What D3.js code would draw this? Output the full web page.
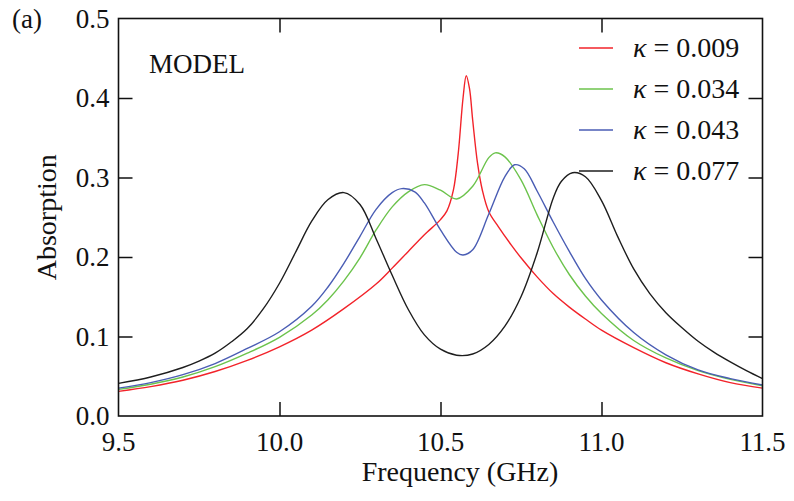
<!DOCTYPE html>
<html>
<head>
<meta charset="utf-8">
<script src="https://cdn.jsdelivr.net/npm/d3@7"></script>
<style>
  html, body { margin: 0; padding: 0; background: #fff; }
  svg { display: block; font-family: "Liberation Serif", "Times New Roman", serif; }
</style>
</head>
<body>
<svg id="chart" width="794" height="501"></svg>
<script>
// Absorption spectra for four coupling strengths (kappa)
const freqRed = [9.50, 9.60, 9.70, 9.80, 9.90, 10.00, 10.10, 10.20, 10.30, 10.35, 10.40, 10.45, 10.50, 10.52, 10.54, 10.555, 10.57, 10.58, 10.59, 10.60, 10.615, 10.63, 10.65, 10.68, 10.72, 10.75, 10.80, 10.85, 10.90, 10.95, 11.00, 11.10, 11.20, 11.30, 11.40, 11.50];
const absRed  = [0.031, 0.037, 0.045, 0.056, 0.070, 0.087, 0.108, 0.135, 0.166, 0.186, 0.207, 0.228, 0.247, 0.258, 0.284, 0.330, 0.400, 0.428, 0.412, 0.372, 0.318, 0.284, 0.257, 0.238, 0.215, 0.199, 0.175, 0.154, 0.137, 0.122, 0.108, 0.086, 0.067, 0.053, 0.042, 0.035];

const freqGreen = [9.50, 9.60, 9.70, 9.80, 9.90, 10.00, 10.10, 10.15, 10.20, 10.25, 10.30, 10.35, 10.40, 10.45, 10.50, 10.55, 10.60, 10.65, 10.67, 10.70, 10.75, 10.80, 10.85, 10.90, 10.95, 11.00, 11.10, 11.20, 11.30, 11.40, 11.50];
const absGreen  = [0.0335, 0.040, 0.049, 0.062, 0.079, 0.099, 0.127, 0.146, 0.170, 0.199, 0.234, 0.263, 0.282, 0.291, 0.284, 0.273, 0.289, 0.325, 0.331, 0.326, 0.297, 0.253, 0.212, 0.178, 0.151, 0.129, 0.095, 0.073, 0.057, 0.046, 0.038];

const freqBlue = [9.50, 9.60, 9.70, 9.80, 9.90, 10.00, 10.10, 10.15, 10.20, 10.25, 10.30, 10.35, 10.38, 10.42, 10.45, 10.50, 10.55, 10.57, 10.60, 10.65, 10.70, 10.73, 10.76, 10.80, 10.85, 10.90, 10.95, 11.00, 11.10, 11.20, 11.30, 11.40, 11.50];
const absBlue  = [0.035, 0.042, 0.052, 0.066, 0.085, 0.106, 0.138, 0.162, 0.192, 0.226, 0.260, 0.281, 0.286, 0.282, 0.268, 0.234, 0.206, 0.2025, 0.209, 0.254, 0.301, 0.316, 0.311, 0.283, 0.244, 0.207, 0.173, 0.146, 0.105, 0.077, 0.058, 0.047, 0.039];

const freqBlack = [9.50, 9.60, 9.70, 9.75, 9.80, 9.85, 9.90, 9.95, 10.00, 10.05, 10.10, 10.15, 10.20, 10.25, 10.30, 10.35, 10.40, 10.45, 10.50, 10.55, 10.60, 10.65, 10.70, 10.75, 10.80, 10.85, 10.875, 10.91, 10.95, 11.00, 11.05, 11.10, 11.15, 11.20, 11.25, 11.30, 11.35, 11.40, 11.45, 11.50];
const absBlack  = [0.041, 0.049, 0.061, 0.069, 0.079, 0.093, 0.110, 0.135, 0.167, 0.206, 0.245, 0.272, 0.281, 0.266, 0.223, 0.177, 0.134, 0.102, 0.084, 0.0765, 0.078, 0.090, 0.113, 0.150, 0.205, 0.274, 0.295, 0.306, 0.301, 0.271, 0.226, 0.185, 0.154, 0.130, 0.111, 0.094, 0.080, 0.068, 0.057, 0.047];

const seriesLabels = ["0.009", "0.034", "0.043", "0.077"];
const seriesColors = ["#f2232a", "#6cc34c", "#4a5db4", "#1e1e1e"];

const xTicks = [9.5, 10.0, 10.5, 11.0, 11.5];
const yTicks = [0.0, 0.1, 0.2, 0.3, 0.4, 0.5];

const series = [
  { f: freqRed,   a: absRed },
  { f: freqGreen, a: absGreen },
  { f: freqBlue,  a: absBlue },
  { f: freqBlack, a: absBlack }
].map((s, i) => ({
  label: seriesLabels[i],
  color: seriesColors[i],
  points: s.f.map((f, j) => [f, s.a[j]])
}));

const svg = d3.select("#chart");
const W = 794, H = 501;
const margin = { left: 118.5, right: W - 762.5, top: 18.5, bottom: H - 416 };

const x = d3.scaleLinear().domain([9.5, 11.5]).range([margin.left, W - margin.right]);
const y = d3.scaleLinear().domain([0, 0.5]).range([H - margin.bottom, margin.top]);

const fontSize = 27;
const tickLen = 14;

// Curves (clipped to the frame)
svg.append("defs").append("clipPath").attr("id", "plotClip")
  .append("rect")
  .attr("x", x(9.5)).attr("y", y(0.5))
  .attr("width", x(11.5) - x(9.5)).attr("height", y(0) - y(0.5));

const line = d3.line()
  .x(d => x(d[0]))
  .y(d => y(d[1]))
  .curve(d3.curveCatmullRom.alpha(0.5));

svg.append("g").attr("clip-path", "url(#plotClip)")
  .selectAll("path")
  .data(series)
  .join("path")
  .attr("d", d => line(d.points))
  .attr("fill", "none")
  .attr("stroke", d => d.color)
  .attr("stroke-width", 1.4)
  .attr("stroke-linejoin", "round");

// Axes with inward ticks on all four sides
const innerX = xTicks.filter(t => t > 9.5 && t < 11.5);
const innerY = yTicks.filter(t => t > 0 && t < 0.5);

svg.append("g")
  .attr("transform", `translate(0,${y(0)})`)
  .call(d3.axisBottom(x).tickValues(innerX).tickSize(-tickLen).tickFormat(""))
  .call(g => g.select(".domain").remove());
svg.append("g")
  .attr("transform", `translate(0,${y(0.5)})`)
  .call(d3.axisTop(x).tickValues(innerX).tickSize(-tickLen).tickFormat(""))
  .call(g => g.select(".domain").remove());
svg.append("g")
  .attr("transform", `translate(${x(9.5)},0)`)
  .call(d3.axisLeft(y).tickValues(innerY).tickSize(-tickLen).tickFormat(""))
  .call(g => g.select(".domain").remove());
svg.append("g")
  .attr("transform", `translate(${x(11.5)},0)`)
  .call(d3.axisRight(y).tickValues(innerY).tickSize(-tickLen).tickFormat(""))
  .call(g => g.select(".domain").remove());

svg.selectAll(".tick line").attr("stroke", "#111").attr("stroke-width", 1.5);

// Frame
svg.append("rect")
  .attr("x", x(9.5)).attr("y", y(0.5))
  .attr("width", x(11.5) - x(9.5)).attr("height", y(0) - y(0.5))
  .attr("fill", "none").attr("stroke", "#111").attr("stroke-width", 1.6);

// Tick labels
svg.append("g").selectAll("text")
  .data(xTicks)
  .join("text")
  .attr("x", d => x(d))
  .attr("y", y(0) + 35)
  .attr("text-anchor", "middle")
  .attr("font-size", fontSize)
  .attr("fill", "#111")
  .text(d => d.toFixed(1));

svg.append("g").selectAll("text")
  .data(yTicks)
  .join("text")
  .attr("x", x(9.5) - 9)
  .attr("y", d => y(d) + 9)
  .attr("text-anchor", "end")
  .attr("font-size", fontSize)
  .attr("fill", "#111")
  .text(d => d.toFixed(1));

// Axis titles
svg.append("text")
  .attr("x", 460).attr("y", 481)
  .attr("text-anchor", "middle")
  .attr("font-size", 28)
  .attr("fill", "#111")
  .text("Frequency (GHz)");

svg.append("text")
  .attr("transform", `translate(56,${(y(0) + y(0.5)) / 2}) rotate(-90)`)
  .attr("text-anchor", "middle")
  .attr("font-size", 28)
  .attr("fill", "#111")
  .text("Absorption");

// Panel tag and model note
svg.append("text")
  .attr("x", 12).attr("y", 28)
  .attr("font-size", fontSize)
  .attr("fill", "#111")
  .text("(a)");

svg.append("text")
  .attr("x", 149).attr("y", 73)
  .attr("font-size", 27)
  .attr("fill", "#111")
  .text("MODEL");

// Legend
const legend = svg.append("g");
const legendRows = legend.selectAll("g")
  .data(series)
  .join("g")
  .attr("transform", (d, i) => `translate(0,${48 + i * 41})`);

legendRows.append("line")
  .attr("x1", 579).attr("x2", 613)
  .attr("y1", 0).attr("y2", 0)
  .attr("stroke", d => d.color)
  .attr("stroke-width", 1.5);

const legendText = legendRows.append("text")
  .attr("x", 633).attr("y", 9)
  .attr("font-size", 28)
  .attr("fill", "#111");
legendText.append("tspan").attr("font-style", "italic").text("\u03BA");
legendText.append("tspan").text(d => " = " + d.label);
</script>
</body>
</html>
